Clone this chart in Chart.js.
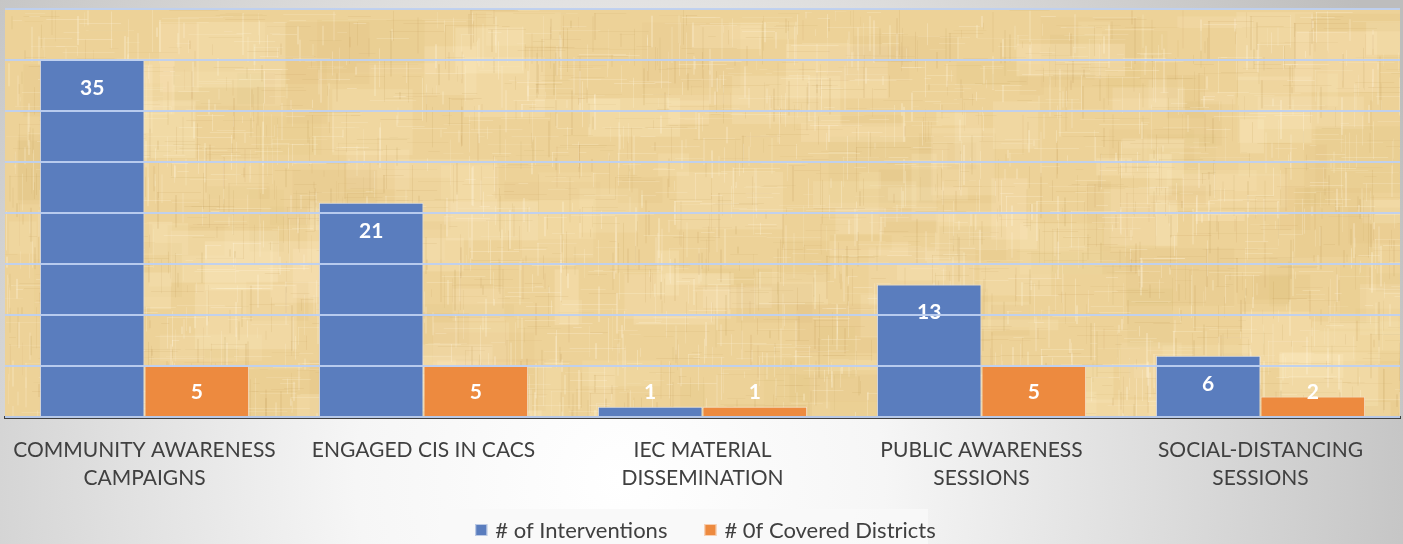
<!DOCTYPE html>
<html><head><meta charset="utf-8">
<script src="https://cdn.jsdelivr.net/npm/chart.js@4.4.1/dist/chart.umd.min.js"></script>
<style>html,body{margin:0;padding:0;background:#fff;overflow:hidden}#wrap{width:1403px;height:544px;position:relative}</style>
</head><body><div id="wrap"><canvas id="c" width="1403" height="544"></canvas></div>
<script>
const categories = [["COMMUNITY AWARENESS","CAMPAIGNS"],"ENGAGED CIS IN CACS",["IEC MATERIAL","DISSEMINATION"],["PUBLIC AWARENESS","SESSIONS"],["SOCIAL-DISTANCING","SESSIONS"]];
const interventions = [35, 21, 1, 13, 6];
const districts = [5, 5, 1, 5, 2];
const seriesNames = ["# of Interventions", "# 0f Covered Districts"];
const yMax = 40, yStep = 5;

const FONT = "Lato, 'Open Sans', sans-serif";

// parchment texture (decorative)
function makeTexture(w, h) {
  const c = document.createElement('canvas'); c.width = w; c.height = h;
  const g = c.getContext('2d');
  g.fillStyle = '#edd298'; g.fillRect(0, 0, w, h);
  let s = 12345;
  const rnd = () => { s = (s * 1103515245 + 12345) & 0x7fffffff; return s / 0x7fffffff; };
  for (let i = 0; i < 220; i++) {
    const x = rnd() * w, y = rnd() * h, pw = 20 + rnd() * 90, ph = 10 + rnd() * 60;
    const t = rnd();
    g.fillStyle = t < 0.6 ? `rgba(255,238,200,${0.12 + rnd()*0.15})` : `rgba(215,180,110,${0.06 + rnd()*0.08})`;
    g.fillRect(x, y, pw, ph);
  }
  for (let i = 0; i < 2200; i++) {
    const x = Math.round(rnd() * w), y = rnd() * h, len = 6 + rnd() * 40;
    g.fillStyle = rnd() < 0.45 ? `rgba(190,150,80,${0.06 + rnd()*0.1})` : `rgba(255,245,220,${0.12 + rnd()*0.2})`;
    g.fillRect(x, y, 1 + Math.round(rnd()), len);
  }
  for (let i = 0; i < 1600; i++) {
    const x = rnd() * w, y = Math.round(rnd() * h), len = 6 + rnd() * 50;
    g.fillStyle = rnd() < 0.45 ? `rgba(190,150,80,${0.05 + rnd()*0.08})` : `rgba(255,245,220,${0.1 + rnd()*0.18})`;
    g.fillRect(x, y, len, 1);
  }
  return c;
}

const bgPlugin = {
  id: 'bg',
  beforeDraw(chart) {
    const { ctx, width, height, chartArea: a } = chart;
    ctx.save();
    const rg = ctx.createRadialGradient(620, 480, 0, 620, 480, 880);
    rg.addColorStop(0, '#ffffff');
    rg.addColorStop(0.3, '#f6f6f6');
    rg.addColorStop(1, '#bdbdbd');
    ctx.fillStyle = rg; ctx.fillRect(0, 0, width, height);
    ctx.fillStyle = 'rgba(248,248,248,0.9)';
    ctx.fillRect(440, 509, 488, height - 509);
    const tex = makeTexture(Math.ceil(a.right - a.left), Math.ceil(a.bottom - a.top));
    ctx.drawImage(tex, a.left, a.top);
    ctx.restore();
  }
};

const labelPlugin = {
  id: 'vals',
  afterDatasetsDraw(chart) {
    const { ctx } = chart;
    ctx.save();
    ctx.font = `bold 21px ${FONT}`;
    ctx.fillStyle = '#ffffff';
    ctx.textAlign = 'center'; ctx.textBaseline = 'middle';
    chart.data.datasets.forEach((ds, di) => {
      chart.getDatasetMeta(di).data.forEach((bar, i) => {
        const y = Math.min(bar.y + 28, bar.base - 24);
        ctx.fillText(String(ds.data[i]), bar.x, y);
      });
    });
    ctx.restore();
  }
};

const legendPlugin = {
  id: 'customLegend',
  afterDraw(chart) {
    const { ctx, width } = chart;
    ctx.save();
    ctx.font = `22px ${FONT}`;
    ctx.textBaseline = 'middle';
    const box = 12, gapBoxText = 8, gapItems = 37, cy = 530;
    const items = chart.data.datasets.map(d => ({ t: d.label, c: d.backgroundColor, w: ctx.measureText(d.label).width }));
    const total = items.reduce((s, it) => s + box + gapBoxText + it.w, 0) + gapItems * (items.length - 1);
    let x = (width - total) / 2 + 4;
    items.forEach(it => {
      ctx.fillStyle = it.c;
      ctx.fillRect(x, cy - box / 2, box, box);
      ctx.strokeStyle = 'rgba(255,255,255,0.6)'; ctx.lineWidth = 1;
      ctx.strokeRect(x + 0.5, cy - box / 2 + 0.5, box - 1, box - 1);
      ctx.fillStyle = '#404040';
      ctx.fillText(it.t, x + box + gapBoxText, cy + 1);
      x += box + gapBoxText + it.w + gapItems;
    });
    ctx.restore();
  }
};

new Chart(document.getElementById('c'), {
  type: 'bar',
  data: {
    labels: categories,
    datasets: [
      { label: seriesNames[0], data: interventions, backgroundColor: '#5a7dbe', borderColor: 'rgba(225,228,240,0.85)', borderWidth: 1 },
      { label: seriesNames[1], data: districts, backgroundColor: '#ed8a3f', borderColor: 'rgba(245,225,205,0.85)', borderWidth: 1 }
    ]
  },
  options: {
    responsive: false, animation: false,
    layout: { padding: { top: 9, left: 5, right: 3, bottom: 26 } },
    datasets: { bar: { categoryPercentage: 0.75, barPercentage: 1.0 } },
    plugins: {
      legend: { display: false },
      tooltip: { enabled: false }
    },
    scales: {
      x: {
        grid: { display: false },
        border: { display: true, color: '#404040', width: 3 },
        ticks: { font: { family: FONT, size: 21, lineHeight: 1.33 }, color: '#404040', padding: 11, maxRotation: 0, autoSkip: false },
        afterFit(s) { s.height = 101; }
      },
      y: {
        min: 0, max: yMax,
        ticks: { display: false, stepSize: yStep },
        border: { display: false },
        grid: { color: 'rgba(190,208,240,0.95)', lineWidth: 2, drawTicks: false, z: 1 },
        afterFit(s) { s.width = 0; }
      }
    }
  },
  plugins: [bgPlugin, labelPlugin, legendPlugin]
});
</script></body></html>
